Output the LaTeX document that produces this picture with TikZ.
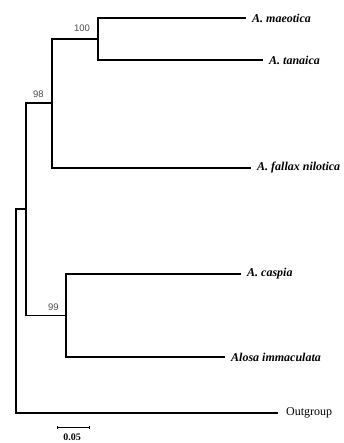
\documentclass[tikz,border=0pt]{standalone}
\usepackage{fontspec}
\setmainfont{Liberation Serif}
\newfontfamily\bootfont{Liberation Sans}
\begin{document}
\begin{tikzpicture}[x=1pt,y=-1pt,
  branch/.style={line width=1.3pt, line cap=rect},
  leaf/.style={anchor=west, inner xsep=7pt, inner ysep=0pt,
    font=\fontsize{12}{14}\selectfont\bfseries\itshape},
  outleaf/.style={anchor=west, inner xsep=9pt, inner ysep=0pt,
    font=\fontsize{12}{14}\selectfont},
  boot/.style={inner sep=0pt, text=black!70,
    font=\fontsize{9.5}{11}\selectfont\bootfont},
  scalebar/.style={line width=0.8pt}]
\useasboundingbox (0,0) rectangle (344,443);

% internal nodes (x = distance from root, y = midpoint of children)
\coordinate (root) at (16,311.5);
\coordinate (nA)   at (26,209);
\coordinate (n98)  at (52,103);
\coordinate (n100) at (98,39);
\coordinate (n99)  at (66,315.5);

% tips
\node[leaf]    (maeo) at (245,18)  {A. maeotica};
\node[leaf]    (tana) at (262,60)  {A. tanaica};
\node[leaf]    (fall) at (250,168) {A. fallax nilotica};
\node[leaf]    (casp) at (240,274) {A. caspia};
\node[leaf]    (immac) at (224,357) {Alosa immaculata};
\node[outleaf] (outg) at (277,413) {Outgroup};

% branches drawn as right-angled elbows from parent to child
\draw[branch] (n100) |- (maeo.west);
\draw[branch] (n100) |- (tana.west);
\draw[branch] (n98)  |- (n100);
\draw[branch] (n98)  |- (fall.west);
\draw[branch] (nA)   |- (n98);
\draw[branch] (nA)   |- (n99);
\draw[branch] (n99)  |- (casp.west);
\draw[branch] (n99)  |- (immac.west);
\draw[branch] (root) |- (nA);
\draw[branch] (root) |- (outg.west);

% bootstrap support values
\node[boot] (b100) at (82,28)  {100};
\node[boot] (b98)  at (38.5,94) {98};
\node[boot] (b99)  at (53.5,307) {99};

% scale bar
\coordinate (sbL) at (57,427);
\coordinate (sbR) at (89,427);
\draw[scalebar] (sbL) -- (sbR);
\draw[scalebar] ([yshift=-1.5pt]sbL) -- ([yshift=1.5pt]sbL);
\draw[scalebar] ([yshift=-1.5pt]sbR) -- ([yshift=1.5pt]sbR);
\node[inner sep=0pt, font=\fontsize{10}{11}\selectfont\bfseries] (sbt) at (72,437) {0.05};
\end{tikzpicture}
\end{document}
